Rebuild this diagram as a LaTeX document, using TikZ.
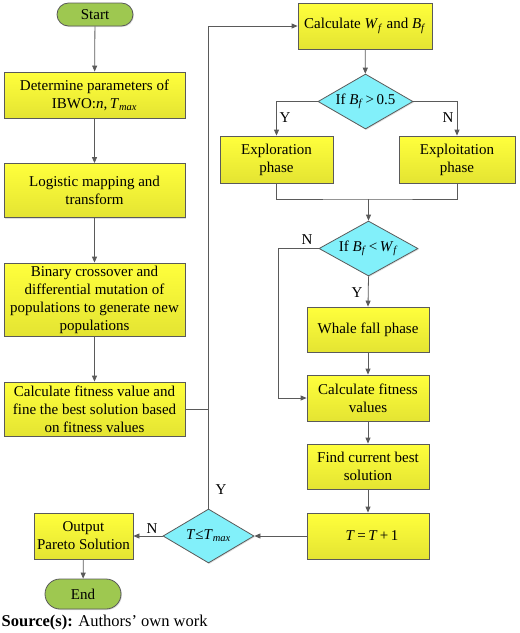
\documentclass[tikz,border=0pt]{standalone}
\usepackage{fontspec}
\setmainfont{Liberation Serif}
\usetikzlibrary{arrows.meta,shapes.geometric,shapes.misc,shadows}
\definecolor{lnc}{RGB}{90,90,90}
\definecolor{ytop}{RGB}{255,255,60}
\definecolor{ybot}{RGB}{228,228,50}
\definecolor{cyanf}{RGB}{130,240,250}
\definecolor{greenf}{RGB}{158,200,80}
\newcommand{\mi}[1]{\textit{#1}}
\newcommand{\sbi}[1]{\textsubscript{\textit{#1}}}
\begin{document}
\begin{tikzpicture}[x=1pt,y=-1pt,
  font=\fontsize{15}{18}\selectfont,
  every node/.style={inner sep=0pt, align=center},
  procbox/.style={draw=lnc, line width=0.8pt, top color=ytop, bottom color=ybot,
    drop shadow={shadow xshift=1pt, shadow yshift=-1pt, opacity=0.25}},
  decbox/.style={draw=lnc, line width=0.8pt, fill=cyanf, diamond, aspect=1.7,
    drop shadow={shadow xshift=1pt, shadow yshift=-1pt, opacity=0.25}},
  termbox/.style={draw=lnc, line width=0.8pt, fill=greenf, rounded rectangle,
    drop shadow={shadow xshift=1pt, shadow yshift=-1pt, opacity=0.25}},
  conn/.style={draw=lnc, line width=0.8pt},
  arr/.style={conn, -{Triangle[length=6pt,width=5pt]}},
  lbl/.style={font=\fontsize{15}{18}\selectfont}
]
\useasboundingbox (0,0) rectangle (520,633);

% left column
\node[termbox, minimum width=76pt, minimum height=23pt] (start) at (95,14.5) {Start};
\node[procbox, minimum width=181pt, minimum height=46pt] (det) at (94.5,95)
  {Determine parameters of\\IBWO:\mi{n},\,\mi{T}\sbi{max}};
\node[procbox, minimum width=181pt, minimum height=54pt] (log) at (94.5,190.5)
  {Logistic mapping and\\transform};
\node[procbox, minimum width=181pt, minimum height=73pt] (bin) at (94.5,299.5)
  {Binary crossover and\\differential mutation of\\populations to generate new\\populations};
\node[procbox, minimum width=181pt, minimum height=54pt] (calc) at (94.5,409)
  {Calculate fitness value and\\fine the best solution based\\on fitness values};

% right column
\node[procbox, minimum width=134pt, minimum height=46pt] (cwb) at (365,26)
  {Calculate \mi{W}\sbi{f} and \mi{B}\sbi{f}};
\node[decbox, minimum width=95pt, minimum height=55pt] (d1) at (365.5,101.5)
  {If \mi{B}\sbi{f}\,>\,0.5};
\node[procbox, minimum width=113pt, minimum height=47pt] (explor) at (276.5,159.5)
  {Exploration\\phase};
\node[procbox, minimum width=116pt, minimum height=47pt] (exploit) at (457,159.5)
  {Exploitation\\phase};
\node[decbox, minimum width=99pt, minimum height=55pt] (d2) at (368.5,248.5)
  {If \mi{B}\sbi{f}\,<\,\mi{W}\sbi{f}};
\node[procbox, minimum width=122pt, minimum height=45pt] (whale) at (368,329.5)
  {Whale fall phase};
\node[procbox, minimum width=122pt, minimum height=46pt] (cfv) at (368,398)
  {Calculate fitness\\values};
\node[procbox, minimum width=122pt, minimum height=45pt] (fcb) at (368,466.5)
  {Find current best\\solution};
\node[procbox, minimum width=122pt, minimum height=46pt] (tinc) at (368,536)
  {\hspace*{8pt}\mi{T}\,=\,\mi{T}\,+\,1};

% bottom
\node[decbox, minimum width=91pt, minimum height=54pt] (d3) at (208.5,536)
  {\mi{T}≤\mi{T}\sbi{max}};
\node[procbox, minimum width=99pt, minimum height=46pt] (out) at (83.5,536)
  {Output\\Pareto Solution};
\node[termbox, minimum width=76pt, minimum height=30pt] (endn) at (83,594) {End};

\node[anchor=west, font=\fontsize{16.5}{19}\selectfont] (src) at (1.5,623)
  {\textbf{Source(s):} Authors’ own work};

% coordinates
\coordinate (mg) at (368.5,199);
\coordinate (nb) at (278,248.5);

% connectors
\draw[arr] (start) -- (det);
\draw[arr] (det) -- (log);
\draw[arr] (log) -- (bin);
\draw[arr] (bin) -- (calc);
\draw[conn] (calc.east) -- (d3.north |- calc.east);
\draw[arr] (d3.north) |- (cwb.west);
\draw[arr] (cwb) -- (d1);
\draw[arr] (d1.west) -| (explor.north);
\draw[arr] (d1.east) -| (exploit.north);
\draw[conn] (explor.south) |- (mg) -| (exploit.south);
\draw[arr] (mg) -- (d2.north);
\draw[arr] (d2.south) -- (whale.north);
\draw[arr] (d2.west) -- (nb) |- (cfv.west);
\draw[arr] (whale) -- (cfv);
\draw[arr] (cfv) -- (fcb);
\draw[arr] (fcb) -- (tinc);
\draw[arr] (tinc.west) -- (d3.east);
\draw[arr] (d3.west) -- (out.east);
\draw[arr] (out) -- (endn);

% labels
\node[lbl] (ly1) at (285,118) {Y};
\node[lbl] (ln1) at (448,118) {N};
\node[lbl] (ln2) at (307,240) {N};
\node[lbl] (ly2) at (357,293) {Y};
\node[lbl] (ly3) at (221,490) {Y};
\node[lbl] (ln3) at (152,529) {N};
\end{tikzpicture}
\end{document}
